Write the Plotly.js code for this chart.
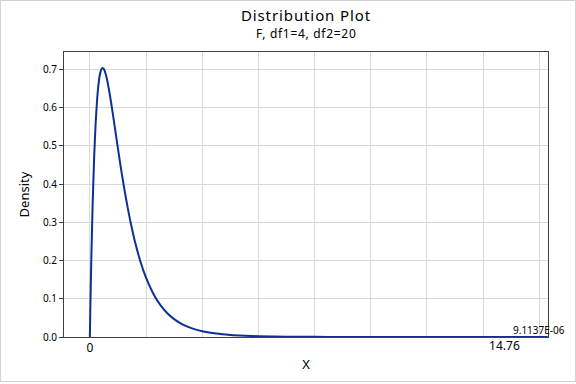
<!DOCTYPE html>
<html>
<head>
<meta charset="utf-8">
<script src="https://cdn.plot.ly/plotly-3.0.1.min.js"></script>
<style>
  html, body { margin: 0; padding: 0; background: #fff; }
  #wrap { position: relative; width: 576px; height: 384px; }
  #chart { position: absolute; left: 0; top: 0; width: 576px; height: 384px; }
  #frame { position: absolute; left: 0; top: 0; width: 576px; height: 382px; box-sizing: border-box;
           border: 1px solid #d2d2d2; pointer-events: none; }
</style>
</head>
<body>
<div id="wrap"><div id="chart"></div><div id="frame"></div></div>
<script>
// Density curve of F(df1=4, df2=20)
const xValues = [0, 0.02, 0.05, 0.1, 0.15, 0.2, 0.25, 0.3, 0.35, 0.4, 0.45, 0.5, 0.55, 0.6, 0.7, 0.8, 0.9, 1.0,
  1.1, 1.2, 1.3, 1.4, 1.5, 1.6, 1.8, 2.0, 2.25, 2.5, 2.75, 3.0, 3.25, 3.5, 3.75, 4.0, 4.5, 5.0, 5.5, 6.0, 7.0, 8.0,
  9.0, 10.0, 12.0, 14.0, 14.76, 16.3];
const density = [0, 0.0836, 0.1952, 0.3469, 0.4629, 0.5497, 0.6125, 0.6560, 0.6837, 0.6989, 0.7039, 0.7010, 0.6918, 0.6777,
  0.6394, 0.5931, 0.5434, 0.4935, 0.4449, 0.3996, 0.3573, 0.3184, 0.2834, 0.2515, 0.1978, 0.1552, 0.1146, 0.0848, 0.0629,
  0.0469, 0.0352, 0.0264, 0.0200, 0.01522, 0.00894, 0.00537, 0.00330, 0.00205, 0.000843, 0.000369,
  0.000170, 0.0000828, 0.0000221, 0.0000068, 0.00000447, 0.0000020];
// Shaded upper tail beyond the critical value
const tailX = [14.76, 15.5, 16.3];
const tailY = [0.00000447, 0.0000030, 0.0000020];
const critValue = 14.76;
const tailArea = "9.1137E-06";
const xGrid = [0, 2, 4, 6, 8, 10, 12, 14, 16];
const yTicks = [0, 0.1, 0.2, 0.3, 0.4, 0.5, 0.6, 0.7];
const titleText = "Distribution Plot";
const subtitleText = "F, df1=4, df2=20";

const FONT = "Noto Sans, Open Sans, DejaVu Sans, sans-serif";
const blue = "#0b3194";

const traces = [
  { x: tailX, y: tailY, type: "scatter", mode: "lines", fill: "tozeroy",
    fillcolor: "#c0392b", line: { color: "#c0392b", width: 0 }, hoverinfo: "skip", showlegend: false },
  { x: xValues, y: density, type: "scatter", mode: "lines",
    line: { color: blue, width: 2, shape: "spline", smoothing: 0.6 }, showlegend: false },
  { x: [critValue], y: [0], xaxis: "x2", type: "scatter", mode: "markers",
    marker: { opacity: 0 }, hoverinfo: "skip", showlegend: false }
];

const xRange = [-0.92, 16.31];
const layout = {
  width: 576, height: 384,
  margin: { l: 63.5, r: 27.5, t: 52, b: 47, pad: 0 },
  paper_bgcolor: "#fff", plot_bgcolor: "#fff",
  font: { family: FONT, color: "#000", size: 10 },
  title: { text: '<span style="letter-spacing:0.9px">' + titleText + '</span>',
           font: { family: FONT, size: 15, color: "#000" },
           x: 0.5, xanchor: "center", xref: "paper", y: 1 - 10 / 384, yanchor: "top", yref: "container" },
  xaxis: {
    range: xRange, tickvals: xGrid, ticktext: ["0", "", "", "", "", "", "", "", ""],
    showgrid: true, gridcolor: "#d9d9d9", gridwidth: 1, zeroline: false,
    showline: true, linecolor: "#404040", linewidth: 1, mirror: true,
    ticks: "", tickfont: { family: FONT, size: 12, color: "#000" },
    title: { text: "X", font: { family: FONT, size: 13, color: "#000" }, standoff: 4 }
  },
  xaxis2: {
    overlaying: "x", side: "bottom", range: xRange, tickvals: [critValue], ticktext: ["14.76"],
    showgrid: false, zeroline: false, showline: false, ticks: "",
    tickfont: { family: FONT, size: 12, color: "#000" }
  },
  yaxis: {
    range: [0, 0.746], tickvals: yTicks, tickformat: ".1f",
    showgrid: true, gridcolor: "#d9d9d9", gridwidth: 1, zeroline: false,
    showline: true, linecolor: "#404040", linewidth: 1, mirror: true,
    ticks: "outside", ticklen: 4, tickcolor: "#404040",
    tickfont: { family: FONT, size: 10, color: "#000" },
    title: { text: "Density", font: { family: FONT, size: 13, color: "#000" }, standoff: 10 }
  },
  annotations: [
    { x: 0.5, y: 1 + 8 / 285, xref: "paper", yref: "paper", xanchor: "center", yanchor: "bottom",
      text: '<span style="letter-spacing:0.7px">' + subtitleText + '</span>', showarrow: false,
      font: { family: FONT, size: 12, color: "#000" } },
    { x: 15.0, y: 0, xref: "x", yref: "y", text: tailArea, showarrow: false,
      xanchor: "left", yanchor: "bottom", yshift: -2, font: { family: FONT, size: 10, color: "#000" } }
  ]
};

Plotly.newPlot("chart", traces, layout, { displayModeBar: false, staticPlot: true });
</script>
</body>
</html>
